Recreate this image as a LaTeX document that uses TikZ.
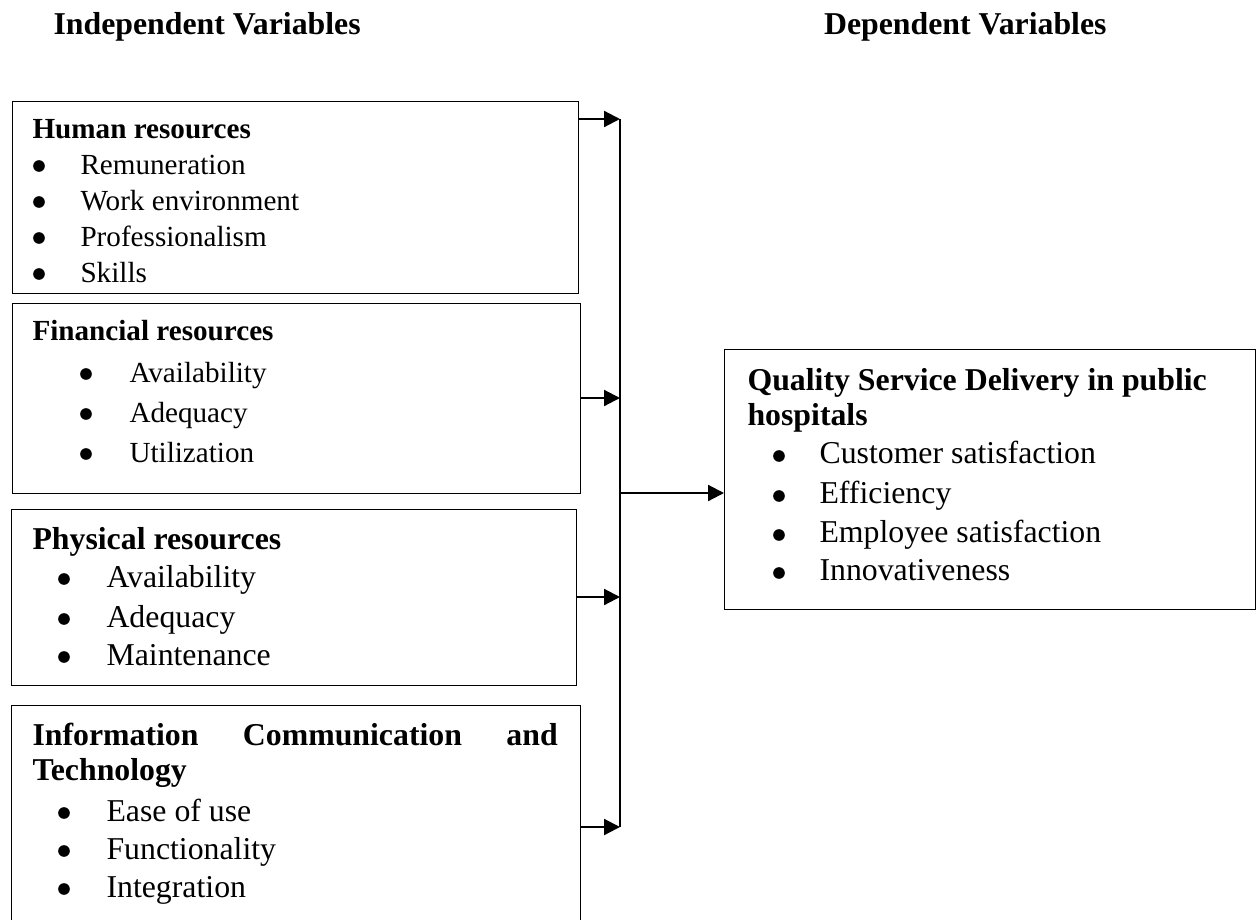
\documentclass[tikz,border=0pt]{standalone}
\usepackage{fontspec}
\setmainfont{Liberation Serif}
\usetikzlibrary{arrows.meta}

\tikzset{
  box/.style={draw, line width=0.5pt, anchor=north west, inner sep=0pt},
  title/.style={anchor=base west, inner sep=0pt, font=\bfseries\fontsize{12}{14}\selectfont},
  stitle/.style={anchor=base west, inner sep=0pt, font=\bfseries\fontsize{11}{13}\selectfont},
  entry/.style={anchor=base west, inner sep=0pt, font=\fontsize{12}{14}\selectfont},
  sentry/.style={anchor=base west, inner sep=0pt, font=\fontsize{11}{13}\selectfont},
  bul/.style={circle, fill, inner sep=0pt, minimum size=4.4pt},
  link/.style={line width=0.8pt},
  feed/.style={link, -{Triangle[length=6pt,width=6pt]}}
}

\begin{document}
\begin{tikzpicture}[x=0.3774pt, y=-0.3774pt]
        \useasboundingbox (0, 0) rectangle (1257, 919);

        % column headings
        \node[title] (ivar) at (53, 35) {Independent Variables};
        \node[title, anchor=base east] (dvar) at (1107, 35) {Dependent Variables};

        % the four resource boxes and the outcome box
        \node[box, minimum width=213.6pt, minimum height=72.5pt] (hr) at (12, 101) {};
        \node[box, minimum width=214.4pt, minimum height=71.7pt] (fr) at (12, 303) {};
        \node[box, minimum width=213.2pt, minimum height=66.4pt] (pr) at (11, 509) {};
        \node[box, minimum width=214.7pt, minimum height=92.1pt] (ict) at (11, 705) {};
        \node[box, minimum width=200.4pt, minimum height=98.1pt] (qsd) at (724, 349) {};

        % human resources
        \node[stitle] (hr0) at (32, 138) {Human resources};
        \node[bul] (hrb1) at (39, 166) {};
        \node[bul] (hrb2) at (39, 202) {};
        \node[bul] (hrb3) at (39, 238) {};
        \node[bul] (hrb4) at (39, 274) {};
        \node[sentry] (hr1) at (80, 174) {Remuneration};
        \node[sentry] (hr2) at (80, 210) {Work environment};
        \node[sentry] (hr3) at (80, 246) {Professionalism};
        \node[sentry] (hr4) at (80, 282) {Skills};

        % financial resources
        \node[stitle] (fr0) at (32, 340) {Financial resources};
        \node[bul] (frb1) at (86, 374) {};
        \node[bul] (frb2) at (86, 414) {};
        \node[bul] (frb3) at (86, 454) {};
        \node[sentry] (fr1) at (129, 382) {Availability};
        \node[sentry] (fr2) at (129, 422) {Adequacy};
        \node[sentry] (fr3) at (129, 462) {Utilization};

        % physical resources
        \node[title] (pr0) at (32, 549) {Physical resources};
        \node[bul] (prb1) at (64, 579) {};
        \node[bul] (prb2) at (64, 619) {};
        \node[bul] (prb3) at (64, 657) {};
        \node[entry] (pr1) at (106, 587) {Availability};
        \node[entry] (pr2) at (106, 627) {Adequacy};
        \node[entry] (pr3) at (106, 665) {Maintenance};

        % ict
        \node[title] (ict0) at (32, 745) {\makebox[198.2pt][s]{Information Communication and}};
        \node[title] (ict1) at (32, 780) {Technology};
        \node[bul] (ictb1) at (64, 813) {};
        \node[bul] (ictb2) at (64, 851) {};
        \node[bul] (ictb3) at (64, 889) {};
        \node[entry] (ict2) at (106, 821) {Ease of use};
        \node[entry] (ict3) at (106, 859) {Functionality};
        \node[entry] (ict4) at (106, 897) {Integration};

        % quality service delivery
        \node[title] (qsd0) at (747, 390) {Quality Service Delivery in public};
        \node[title] (qsd1) at (747, 425) {hospitals};
        \node[bul] (qsdb1) at (779, 456) {};
        \node[bul] (qsdb2) at (779, 496) {};
        \node[bul] (qsdb3) at (779, 535) {};
        \node[bul] (qsdb4) at (779, 573) {};
        \node[entry] (qsd2) at (819, 463) {Customer satisfaction};
        \node[entry] (qsd3) at (819, 503) {Efficiency};
        \node[entry] (qsd4) at (819, 542) {Employee satisfaction};
        \node[entry] (qsd5) at (819, 580) {Innovativeness};

        % collecting line
        \coordinate (b1) at (620, 119);
        \coordinate (b2) at (620, 398);
        \coordinate (b3) at (620, 597);
        \coordinate (b4) at (620, 827);
        \coordinate (bm) at (620, 493);
        \draw[link] (b1) -- (b4);
        \draw[feed] (hr.east |- b1) -- (b1);
        \draw[feed] (fr.east |- b2) -- (b2);
        \draw[feed] (pr.east |- b3) -- (b3);
        \draw[feed] (ict.east |- b4) -- (b4);
        \draw[feed] (bm) -- (qsd.west |- bm);
\end{tikzpicture}
\end{document}
